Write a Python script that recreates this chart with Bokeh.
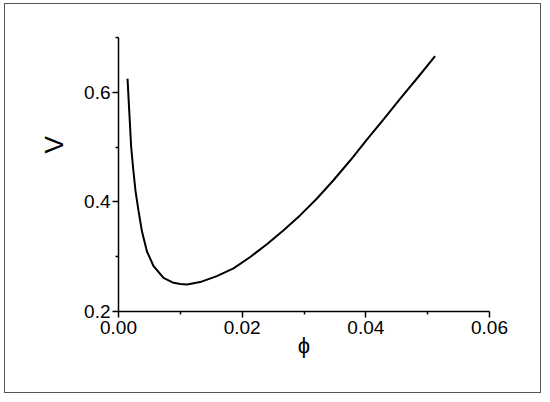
from bokeh.plotting import figure
from bokeh.models import Range1d, FixedTicker, Title
from bokeh.embed import file_html
from bokeh.resources import INLINE

# data
phi = [0.00146, 0.00176, 0.00205, 0.00238, 0.00275, 0.00323, 0.00378, 0.00459,
       0.00566, 0.00728, 0.00890, 0.01000, 0.01110, 0.01320, 0.01590, 0.01860,
       0.02130, 0.02400, 0.02670, 0.02940, 0.03210, 0.03480, 0.03750, 0.04020,
       0.04290, 0.04560, 0.04840, 0.05120]
V = [0.625, 0.561, 0.500, 0.460, 0.420, 0.384, 0.347, 0.310,
     0.283, 0.2615, 0.2524, 0.2500, 0.2494, 0.2537, 0.2646, 0.2788,
     0.2994, 0.3227, 0.3483, 0.3758, 0.4062, 0.4400, 0.4760, 0.5140,
     0.5510, 0.5890, 0.6270, 0.6660]

x_ticks = [0.0, 0.02, 0.04, 0.06]
x_tick_labels = ["0.00", "0.02", "0.04", "0.06"]
x_minor = [0.01, 0.03, 0.05]
y_ticks = [0.2, 0.4, 0.6]
y_tick_labels = ["0.2", "0.4", "0.6"]
y_minor = [0.3, 0.5, 0.7]

FONT = "Liberation Sans"

p = figure(width=537, height=390, output_backend="svg", toolbar_location=None,
           x_range=Range1d(0, 0.06), y_range=Range1d(0.2, 0.7),
           x_axis_label="\u03d5",
           min_border_left=113, min_border_right=53, min_border_top=33, min_border_bottom=83)
p.styles = {"border": "1px solid #555", "margin": "3px 0 0 4px"}
p.outline_line_color = None
p.xgrid.visible = False
p.ygrid.visible = False
p.background_fill_color = "white"
p.border_fill_color = "white"

p.line(phi, V, line_color="black", line_width=2)

for ax, ticks, labels, minor in ((p.xaxis[0], x_ticks, x_tick_labels, x_minor),
                                 (p.yaxis[0], y_ticks, y_tick_labels, y_minor)):
    ax.ticker = FixedTicker(ticks=ticks, minor_ticks=minor)
    ax.major_label_overrides = dict(zip(ticks, labels))
    ax.axis_line_width = 1.5
    ax.major_tick_line_width = 1.5
    ax.minor_tick_line_width = 1.5
    ax.major_tick_out = 6
    ax.major_tick_in = 0
    ax.minor_tick_out = 3
    ax.minor_tick_in = 0
    ax.major_label_text_font = FONT
    ax.major_label_text_font_size = "19px"
    ax.major_label_text_color = "black"
    ax.axis_label_text_font = FONT
    ax.axis_label_text_font_style = "normal"
    ax.axis_label_text_color = "black"

p.xaxis.major_label_standoff = 3
p.yaxis.major_label_standoff = 2
p.xaxis.axis_label_text_font_size = "22px"
p.xaxis.axis_label_standoff = -4

p.add_layout(Title(text="V", align="left", offset=158, standoff=26,
                   text_font=FONT, text_font_size="26px", text_font_style="normal",
                   text_color="black"), "left")

open("out.html", "w").write(file_html(p, INLINE))
